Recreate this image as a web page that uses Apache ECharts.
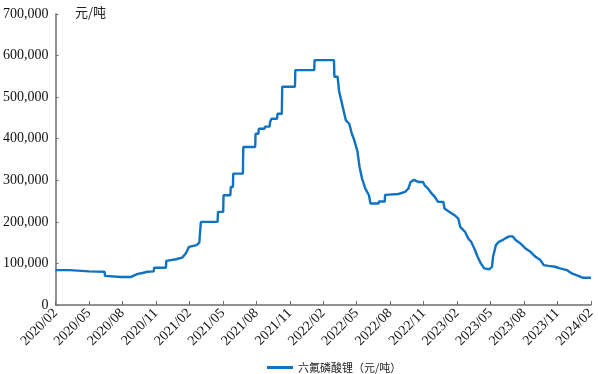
<!DOCTYPE html>
<html>
<head>
<meta charset="utf-8">
<script src="https://cdn.jsdelivr.net/npm/echarts@6/dist/echarts.min.js"></script>
<style>html,body{margin:0;padding:0;background:#fff}#c{width:598px;height:374px}</style>
</head>
<body>
<div id="c"></div>
<script>
var seriesName = '六氟磷酸锂（元/吨）';
var unitLabel = '元/吨';
var xTickLabels = ['2020/02','2020/05','2020/08','2020/11','2021/02','2021/05','2021/08','2021/11','2022/02','2022/05','2022/08','2022/11','2023/02','2023/05','2023/08','2023/11','2024/02'];
var dates = ['2020-02-01','2020-03-10','2020-03-11','2020-05-01','2020-06-13','2020-06-14','2020-07-29','2020-08-25','2020-08-28','2020-09-12','2020-09-25','2020-10-08','2020-10-26','2020-10-27','2020-11-28','2020-11-29','2020-12-26','2021-01-12','2021-01-22','2021-01-31','2021-02-19','2021-02-26','2021-02-27','2021-03-01','2021-03-02','2021-04-17','2021-04-18','2021-05-02','2021-05-03','2021-05-22','2021-05-23','2021-05-29','2021-05-30','2021-06-25','2021-06-26','2021-07-29','2021-07-30','2021-08-07','2021-08-08','2021-08-24','2021-08-25','2021-09-07','2021-09-08','2021-09-11','2021-09-12','2021-09-27','2021-09-28','2021-10-10','2021-10-11','2021-11-15','2021-11-16','2022-01-07','2022-01-08','2022-02-28','2022-03-01','2022-03-10','2022-03-14','2022-03-26','2022-04-02','2022-04-11','2022-04-18','2022-04-24','2022-05-03','2022-05-09','2022-05-16','2022-05-25','2022-06-04','2022-06-08','2022-06-30','2022-07-01','2022-07-17','2022-07-18','2022-08-24','2022-09-11','2022-09-20','2022-09-26','2022-10-05','2022-10-10','2022-10-17','2022-10-30','2022-11-04','2022-11-13','2022-11-22','2022-12-01','2022-12-10','2022-12-25','2022-12-28','2023-01-11','2023-01-25','2023-02-04','2023-02-09','2023-02-21','2023-03-01','2023-03-09','2023-03-18','2023-03-27','2023-04-05','2023-04-14','2023-04-28','2023-05-05','2023-05-08','2023-05-16','2023-05-24','2023-06-03','2023-06-12','2023-06-21','2023-07-01','2023-07-08','2023-07-22','2023-08-05','2023-08-19','2023-09-02','2023-09-15','2023-09-24','2023-10-07','2023-10-25','2023-11-08','2023-11-26','2023-12-10','2023-12-28','2024-01-10','2024-02-01'];
var prices = [84000,84000,82000,81000,80000,70000,67500,67500,72000,75000,77000,80000,81000,89500,89500,106000,110000,114000,124000,140000,144000,150000,164000,165000,200000,200000,224000,224000,264000,264000,284000,284000,316000,316000,380000,380000,412000,412000,424000,424000,429000,429000,440000,440000,448000,448000,460000,460000,525000,525000,565000,565000,589000,589000,549000,549000,515000,470000,444000,436000,412000,398000,370000,332000,304000,280000,264000,244000,244000,249000,249000,265000,267000,272000,280000,296000,301000,305000,296000,296000,288000,280000,269000,260000,248000,248000,232000,224000,216000,208000,188000,176000,160000,152000,136000,116000,100000,88000,86000,92000,116000,144000,152000,156000,161000,165000,165000,157000,148000,136000,128000,116000,108000,96000,94000,92000,88000,84000,76000,70000,65500,65500];

function monthOffset(s) {
  var p = s.split('-').map(Number);
  var dim = new Date(p[0], p[1], 0).getDate();
  return (p[0] - 2020) * 12 + (p[1] - 2) + (p[2] - 1) / dim;
}
var data = dates.map(function (d, i) { return [monthOffset(d), prices[i]]; });

var serif = '"Liberation Serif", "Times New Roman", serif';
var cjk = '"Noto Sans CJK SC", sans-serif';
var chart = echarts.init(document.getElementById('c'), null, {renderer: 'canvas'});
chart.setOption({
  animation: false,
  backgroundColor: '#ffffff',
  grid: {left: 55, right: 2, top: 14, bottom: 69, containLabel: false},
  legend: {
    data: [seriesName], left: 262, top: 357, icon: 'rect', itemWidth: 26, itemHeight: 3, itemGap: 4,
    textStyle: {fontFamily: cjk, fontSize: 11, color: '#222'}
  },
  graphic: [{type: 'text', left: 75, top: 6, style: {text: unitLabel, font: '13px ' + cjk, fill: '#222'}}],
  xAxis: {
    type: 'value', min: 0, max: 48, interval: 3,
    axisLine: {show: true, lineStyle: {color: '#6e6e6e', width: 1.5}},
    axisTick: {show: true, inside: true, length: 4, lineStyle: {color: '#6e6e6e'}},
    splitLine: {show: false},
    axisLabel: {
      rotate: 45, margin: 6, fontFamily: serif, fontSize: 14, color: '#111',
      formatter: function (v) { return xTickLabels[Math.round(v / 3)] || ''; }
    }
  },
  yAxis: {
    type: 'value', min: 0, max: 700000, interval: 100000,
    axisLine: {show: true, lineStyle: {color: '#6e6e6e', width: 1.5}},
    axisTick: {show: true, inside: true, length: 3, lineStyle: {color: '#6e6e6e'}},
    splitLine: {show: false},
    axisLabel: {
      margin: 7, fontFamily: serif, fontSize: 14, color: '#111',
      formatter: function (v) { return v.toString().replace(/\B(?=(\d{3})+(?!\d))/g, ','); }
    }
  },
  series: [{
    name: seriesName, type: 'line', data: data, showSymbol: false, symbol: 'none',
    lineStyle: {color: '#1072C2', width: 2.4}, itemStyle: {color: '#1072C2'}
  }]
});
</script>
</body>
</html>
